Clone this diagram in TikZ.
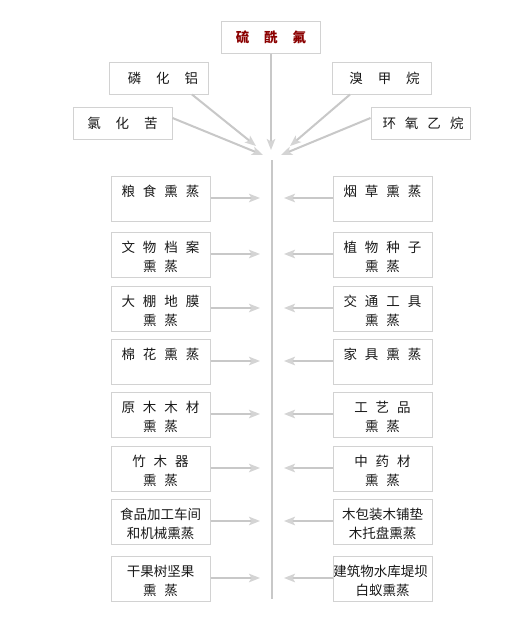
\documentclass[tikz,border=0pt]{standalone}
\usepackage{fontspec}
\setmainfont{Noto Sans CJK SC}
\usetikzlibrary{arrows.meta}
\definecolor{boxgray}{HTML}{D2D2D2}
\definecolor{arrgray}{HTML}{C8C8C8}
\definecolor{headgray}{HTML}{D4D4D4}
\definecolor{titlered}{HTML}{8B0000}
\newcommand\cg{\hspace{8pt}}
\newcommand\wg{\hspace{15pt}}
\newcommand\rowtext[1]{\parbox[c][45pt][t]{99pt}{\centering\fontsize{13.5pt}{19pt}\selectfont\rule{0pt}{20pt}#1\par}}
\begin{document}
\begin{tikzpicture}[x=1pt,y=-1pt,
  topbox/.style={draw=boxgray,line width=1pt,minimum width=99pt,minimum height=32pt,inner sep=0pt,
    font=\fontsize{13.5pt}{16pt}\selectfont,text=black!90},
  rowbox/.style={draw=boxgray,line width=1pt,minimum width=99pt,minimum height=45pt,inner sep=0pt,text=black!90},
  conn/.style={draw=arrgray,line width=2pt,-{Stealth[length=11pt,width=8.5pt,inset=2.5pt,color=headgray]}},
  trunk/.style={draw=arrgray,line width=2pt}]
\useasboundingbox (0,0) rectangle (507,622);
\fill[white] (0,0) rectangle (507,622);

% top gases
\node[topbox,text=titlered,font=\fontsize{13.5pt}{16pt}\selectfont\bfseries] (title) at (271,37) {硫\wg 酰\wg 氟};
\node[topbox] (lhl) at (159,78) {\hspace{8pt}磷\wg 化\wg 铝};
\node[topbox] (lhk) at (122.5,123) {氯\wg 化\wg 苦};
\node[topbox] (xjw) at (381.5,78) {\hspace{6pt}溴\wg 甲\wg 烷};
\node[topbox] (hyyw) at (420.5,123) {\hspace{5pt}环\hspace{9pt}氧\hspace{9pt}乙\hspace{9pt}烷};

\coordinate (tTitle) at (271,150);
\coordinate (tLhl) at (256,146);
\coordinate (tLhk) at (263,155);
\coordinate (tXjw) at (290,146);
\coordinate (tHyyw) at (281,155);
\coordinate (trTop) at (272,160);
\coordinate (trBot) at (272,599);

\draw[conn] (title.south) -- (tTitle);
\draw[conn] (lhl.south -| 192,0) -- (tLhl);
\draw[conn] (lhk.east |- 0,118) -- (tLhk);
\draw[conn] (xjw.south -| 350,0) -- (tXjw);
\draw[conn] (hyyw.west |- 0,118) -- (tHyyw);
\draw[trunk] (trTop) -- (trBot);

% rows
\foreach \i/\top/\lt/\rt in {
  1/176/{粮\cg 食\cg 熏\cg 蒸}/{烟\cg 草\cg 熏\cg 蒸},
  2/232/{文\cg 物\cg 档\cg 案\\熏\cg 蒸}/{植\cg 物\cg 种\cg 子\\熏\cg 蒸},
  3/286/{大\cg 棚\cg 地\cg 膜\\熏\cg 蒸}/{交\cg 通\cg 工\cg 具\\熏\cg 蒸},
  4/339/{棉\cg 花\cg 熏\cg 蒸}/{家\cg 具\cg 熏\cg 蒸},
  5/392/{原\cg 木\cg 木\cg 材\hspace{6pt}\\熏\cg 蒸\hspace{4pt}}/{工\cg 艺\cg 品\\熏\cg 蒸},
  6/446/{竹\cg 木\cg 器\\熏\cg 蒸}/{中\cg 药\cg 材\\熏\cg 蒸},
  7/499/{食品加工车间\\和机械熏蒸}/{木包装木铺垫\\木托盘熏蒸},
  8/556/{干果树坚果\hspace{8pt}\\熏\cg 蒸}/{\hspace{-4pt}建筑物水库堤坝\hspace{-4pt}\\白蚁熏蒸}} {
  \node[rowbox] (L\i) at (160.5,\top+22.5) {\rowtext{\lt}};
  \node[rowbox] (R\i) at (382.5,\top+22.5) {\rowtext{\rt}};
  \coordinate (LE\i) at (260,\top+22);
  \coordinate (RE\i) at (284,\top+22);
  \draw[conn] (L\i.east |- LE\i) -- (LE\i);
  \draw[conn] (R\i.west |- RE\i) -- (RE\i);
}
\end{tikzpicture}
\end{document}
